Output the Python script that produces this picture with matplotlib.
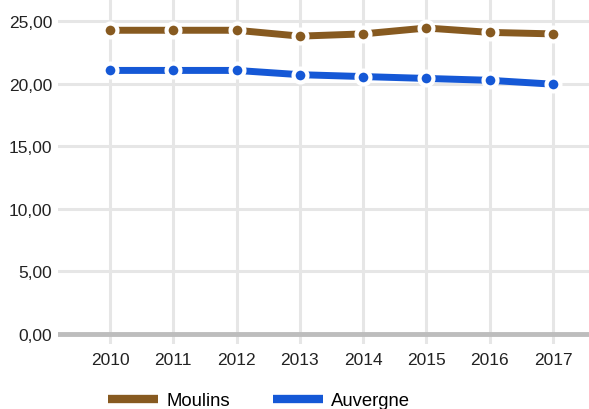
import numpy as np
import matplotlib.pyplot as plt

plt.rcParams['font.family'] = ['Liberation Sans', 'DejaVu Sans']

years = [2010, 2011, 2012, 2013, 2014, 2015, 2016, 2017]
moulins = [24.27, 24.27, 24.27, 23.8, 23.98, 24.45, 24.1, 23.98]
auvergne = [21.06, 21.06, 21.06, 20.72, 20.57, 20.42, 20.27, 19.96]
yticks = [0, 5, 10, 15, 20, 25]

fig = plt.figure(figsize=(5.89, 4.10), dpi=100)
ax = fig.add_axes([58 / 589, 65 / 410, 1 - 58 / 589, 1 - 65 / 410])

for y in yticks[1:]:
    ax.axhline(y, color='#e6e6e6', lw=2.2, zorder=0)
for x in years:
    ax.axvline(x, color='#e6e6e6', lw=2.2, zorder=0)
ax.axhline(0, color='#bdbdbd', lw=3.5, zorder=1)

series = [("Moulins", moulins, '#875a20'), ("Auvergne", auvergne, '#1558d6')]
for name, vals, col in series:
    ax.plot(years, vals, color=col, lw=5, solid_capstyle='butt', zorder=2, label=name)
    ax.plot(years, vals, 'o', color=col, ms=10, mec='white', mew=3, zorder=3)

ax.set_xlim(2010 - 52 / 63.3, 2017 + 36 / 63.3)
ax.set_ylim(-10 / 12.44, 25 + 22 / 12.44)
ax.set_xticks(years)
ax.set_xticklabels([str(y) for y in years])
ax.set_yticks(yticks)
ax.set_yticklabels([("%.2f" % v).replace('.', ',') for v in yticks])
ax.tick_params(length=0, labelsize=12.5, colors='#222222')
ax.tick_params(axis='x', pad=6)
ax.tick_params(axis='y', pad=4)
for s in ax.spines.values():
    s.set_visible(False)

fig.legend(loc='center', bbox_to_anchor=(0.44, 0.02), ncol=2, frameon=False,
           fontsize=13.3, handlelength=2.7, handletextpad=0.45, columnspacing=2.3)
for line in fig.legends[0].get_lines():
    line.set_linewidth(6)
    line.set_solid_capstyle('butt')

plt.savefig("out.png", dpi=100)
